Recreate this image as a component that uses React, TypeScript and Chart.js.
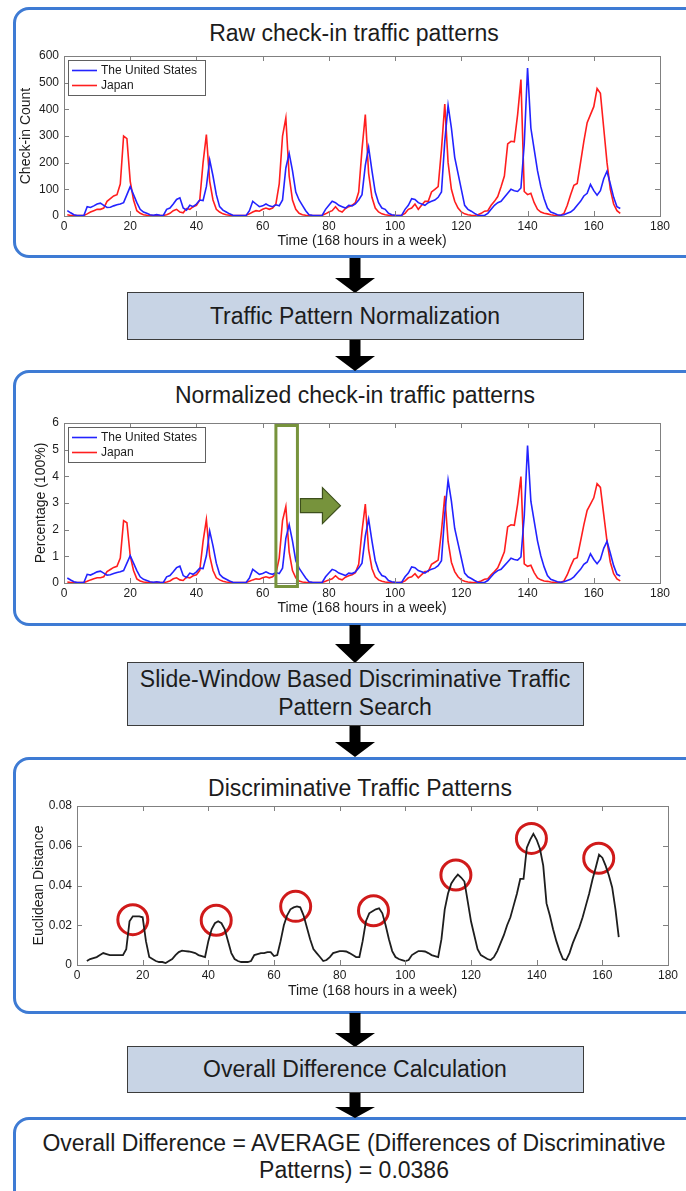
import React, { useEffect, useRef } from "react";
import { Chart, registerables } from "chart.js";

Chart.register(...registerables);
Chart.defaults.font.family = '"Liberation Sans", Arial, Helvetica, sans-serif';

// ---------------- DATA ----------------
const HOURS = Array.from({ length: 168 }, (_, i) => i + 1);
const X_TICK_STEP = 20;

const US_RAW = [
  20, 12, 5, 2, 2, 2, 35, 32, 38, 45,
  48, 40, 32, 33, 38, 42, 45, 50, 80, 110,
  80, 50, 25, 15, 10, 5, 3, 5, 3, 2,
  25, 30, 45, 62, 68, 30, 22, 40, 35, 45,
  60, 58, 110, 210, 150, 80, 35, 22, 15, 8,
  3, 2, 2, 2, 2, 20, 55, 45, 35, 38,
  45, 38, 35, 42, 38, 60, 180, 235, 170, 90,
  60, 40, 20, 5, 3, 2, 2, 3, 25, 40,
  55, 50, 40, 35, 30, 40, 38, 45, 60, 80,
  190, 258, 170, 90, 50, 30, 25, 10, 5, 3,
  2, 3, 25, 40, 65, 62, 50, 45, 40, 50,
  55, 60, 70, 90, 280, 415, 330, 220, 160, 100,
  40, 25, 18, 10, 3, 2, 2, 10, 25, 40,
  50, 55, 70, 85, 100, 95, 92, 105, 270, 555,
  330, 250, 170, 110, 65, 30, 15, 10, 5, 3,
  5, 10, 15, 25, 40, 55, 75, 85, 118, 95,
  78, 95, 140, 168, 120, 70, 35, 28,
];

const JAPAN_RAW = [
  5, 2, 2, 2, 2, 2, 8, 15, 20, 25,
  25, 30, 55, 65, 75, 80, 120, 300, 290, 130,
  60, 20, 10, 5, 3, 2, 2, 2, 2, 2,
  5, 10, 20, 25, 15, 12, 28, 25, 35, 40,
  60, 200, 305, 130, 60, 25, 15, 8, 5, 3,
  2, 2, 2, 2, 3, 8, 15, 20, 18, 25,
  30, 25, 30, 45, 120, 300, 368, 150, 60, 25,
  10, 5, 3, 2, 2, 2, 2, 3, 8, 15,
  20, 35, 20, 15, 28, 35, 40, 50, 90, 250,
  380, 160, 70, 30, 15, 8, 5, 3, 2, 2,
  2, 3, 10, 25, 30, 45, 25, 40, 55, 55,
  90, 100, 110, 250, 420, 200, 100, 55, 30, 15,
  8, 5, 3, 2, 5, 10, 18, 20, 40, 55,
  73, 110, 150, 270, 280, 278, 380, 512, 92, 80,
  85, 50, 25, 15, 10, 8, 5, 3, 2, 3,
  10, 40, 80, 115, 122, 200, 280, 350, 380, 410,
  478, 460, 330, 200, 100, 45, 20, 10,
];

// Euclidean distance of the sliding window, hours 3..165
const DIST_START_HOUR = 3;
const DISTANCE = [
  0.002, 0.003, 0.0035, 0.004, 0.005, 0.006, 0.0055, 0.005,
  0.005, 0.005, 0.005, 0.005, 0.008, 0.022, 0.0245, 0.0245, 0.0245, 0.024,
  0.012, 0.004, 0.003, 0.002, 0.0015, 0.0015, 0.001, 0.002, 0.003, 0.005,
  0.0065, 0.0072, 0.007, 0.0068, 0.0065, 0.006, 0.005, 0.0045, 0.004, 0.012,
  0.018, 0.021, 0.022, 0.021, 0.018, 0.012, 0.006, 0.003, 0.002, 0.0015,
  0.0015, 0.0015, 0.002, 0.005, 0.0055, 0.006, 0.006, 0.0065, 0.0065, 0.0045,
  0.005, 0.012, 0.02, 0.025, 0.028, 0.029, 0.0295, 0.029, 0.025, 0.019,
  0.013, 0.008, 0.006, 0.004, 0.002, 0.0025, 0.004, 0.006, 0.0065, 0.007,
  0.007, 0.0068, 0.006, 0.005, 0.004, 0.004, 0.012, 0.022, 0.026, 0.027,
  0.028, 0.0285, 0.026, 0.02, 0.013, 0.007, 0.004, 0.003, 0.0025, 0.002,
  0.0025, 0.005, 0.006, 0.007, 0.007, 0.0068, 0.006, 0.005, 0.0045, 0.004,
  0.013, 0.028, 0.036, 0.041, 0.0435, 0.0455, 0.044, 0.042, 0.032, 0.022,
  0.015, 0.008, 0.005, 0.004, 0.003, 0.0025, 0.004, 0.007, 0.011, 0.015,
  0.02, 0.024, 0.03, 0.036, 0.0433, 0.0433, 0.059, 0.063, 0.066, 0.063,
  0.0585, 0.05, 0.031, 0.025, 0.018, 0.012, 0.007, 0.003, 0.0025, 0.006,
  0.011, 0.015, 0.019, 0.024, 0.03, 0.036, 0.043, 0.049, 0.0555, 0.054,
  0.05, 0.045, 0.039, 0.028, 0.014,
];

// discriminative patterns (circled peaks)
const PEAK_HOURS = [17, 42.4, 66.6, 90.3, 115.4, 138.4, 158.9];
const PEAK_VALUES = [0.0228, 0.0225, 0.0295, 0.0273, 0.0453, 0.0637, 0.0537];

// slide window shown on the normalized chart
const WINDOW_START = 64;
const WINDOW_END = 70.5;
const WINDOW_ARROW_LEVEL = 2.9;

const SERIES_NAMES = ["The United States", "Japan"];

// ---------------- STYLE ----------------
const BLUE = "rgb(35,35,255)";
const RED = "rgb(255,30,30)";
const GREEN = "#77933c";
const PANEL_BLUE = "#3e7bd4";
const FONT = '"Liberation Sans", Arial, Helvetica, sans-serif';
const TEXT = "#1c1c1c";

const normalize = (arr: number[]) => {
  const total = arr.reduce((s, v) => s + v, 0);
  return arr.map((v) => (v / total) * 100);
};

const US_NORM = normalize(US_RAW);
const JAPAN_NORM = normalize(JAPAN_RAW);

// ---------------- PLUGINS ----------------
const matlabAxes = {
  id: "matlabAxes",
  afterDatasetsDraw(chart: any) {
    const { ctx, chartArea: a, scales } = chart;
    const L = 5;
    ctx.save();
    ctx.strokeStyle = "#808080";
    ctx.lineWidth = 1;
    ctx.beginPath();
    scales.x.ticks.forEach((t: any) => {
      const px = Math.round(scales.x.getPixelForValue(t.value)) + 0.5;
      ctx.moveTo(px, a.bottom);
      ctx.lineTo(px, a.bottom - L);
      ctx.moveTo(px, a.top);
      ctx.lineTo(px, a.top + L);
    });
    scales.y.ticks.forEach((t: any) => {
      const py = Math.round(scales.y.getPixelForValue(t.value)) + 0.5;
      ctx.moveTo(a.left, py);
      ctx.lineTo(a.left + L, py);
      ctx.moveTo(a.right, py);
      ctx.lineTo(a.right - L, py);
    });
    ctx.stroke();
    ctx.strokeRect(
      Math.round(a.left) + 0.5,
      Math.round(a.top) + 0.5,
      Math.round(a.right - a.left),
      Math.round(a.bottom - a.top)
    );
    ctx.restore();
  },
};

const boxLegend = {
  id: "boxLegend",
  afterDatasetsDraw(chart: any) {
    const { ctx, chartArea: a } = chart;
    const bx = Math.round(a.left) + 4;
    const by = Math.round(a.top) + 4;
    const bw = 137;
    const bh = 35;
    ctx.save();
    ctx.fillStyle = "#ffffff";
    ctx.fillRect(bx, by, bw, bh);
    ctx.strokeStyle = "#606060";
    ctx.lineWidth = 1;
    ctx.strokeRect(bx + 0.5, by + 0.5, bw, bh);
    chart.data.datasets.forEach((ds: any, i: number) => {
      const ry = by + 10.5 + i * 15;
      ctx.strokeStyle = ds.borderColor;
      ctx.lineWidth = 1.6;
      ctx.beginPath();
      ctx.moveTo(bx + 4, ry);
      ctx.lineTo(bx + 29, ry);
      ctx.stroke();
      ctx.fillStyle = TEXT;
      ctx.font = `12px ${FONT}`;
      ctx.textBaseline = "middle";
      ctx.textAlign = "left";
      ctx.fillText(ds.label, bx + 33, ry + 0.5);
    });
    ctx.restore();
  },
};

const slideWindow = {
  id: "slideWindow",
  afterDatasetsDraw(chart: any) {
    const { ctx, chartArea: a, scales } = chart;
    const x0 = scales.x.getPixelForValue(WINDOW_START);
    const x1 = scales.x.getPixelForValue(WINDOW_END);
    ctx.save();
    ctx.strokeStyle = GREEN;
    ctx.lineWidth = 3;
    ctx.strokeRect(x0, a.top + 2.5, x1 - x0, a.bottom - a.top + 1);
    const cy = scales.y.getPixelForValue(WINDOW_ARROW_LEVEL);
    const ax = x1 + 3;
    const bodyLen = 22;
    const headLen = 18;
    const bodyH = 7;
    const headH = 18;
    ctx.beginPath();
    ctx.moveTo(ax, cy - bodyH);
    ctx.lineTo(ax + bodyLen, cy - bodyH);
    ctx.lineTo(ax + bodyLen, cy - headH);
    ctx.lineTo(ax + bodyLen + headLen, cy);
    ctx.lineTo(ax + bodyLen, cy + headH);
    ctx.lineTo(ax + bodyLen, cy + bodyH);
    ctx.lineTo(ax, cy + bodyH);
    ctx.closePath();
    ctx.fillStyle = GREEN;
    ctx.fill();
    ctx.strokeStyle = "#3d4f1c";
    ctx.lineWidth = 1.2;
    ctx.stroke();
    ctx.restore();
  },
};

// ---------------- CONFIG HELPERS ----------------
function axes(opts: {
  yMax: number;
  yStep: number;
  yTitle: string;
  yWidth: number;
  xHeight: number;
}) {
  const tickFont = { size: 12, family: FONT };
  const titleFont = { size: 14, family: FONT };
  return {
    x: {
      type: "linear",
      min: 0,
      max: 180,
      ticks: {
        stepSize: X_TICK_STEP,
        padding: 3,
        font: tickFont,
        color: TEXT,
        maxRotation: 0,
        autoSkip: false,
      },
      grid: { display: false, drawTicks: false },
      border: { display: false },
      title: {
        display: true,
        text: "Time (168 hours in a week)",
        font: titleFont,
        color: TEXT,
        padding: 0,
      },
      afterFit: (s: any) => {
        s.height = opts.xHeight;
      },
    },
    y: {
      min: 0,
      max: opts.yMax,
      ticks: { stepSize: opts.yStep, padding: 5, font: tickFont, color: TEXT },
      grid: { display: false, drawTicks: false },
      border: { display: false },
      title: {
        display: true,
        text: opts.yTitle,
        font: titleFont,
        color: TEXT,
        padding: 0,
      },
      afterFit: (s: any) => {
        s.width = opts.yWidth;
      },
    },
  };
}

const lineDs = (label: string, xs: number[], ys: number[], color: string, width = 1.6) => ({
  type: "line",
  label,
  data: xs.map((x, i) => ({ x, y: ys[i] })),
  borderColor: color,
  backgroundColor: color,
  borderWidth: width,
  pointRadius: 0,
  tension: 0,
  fill: false,
});

const baseOptions = (padding: any) => ({
  animation: false,
  responsive: false,
  maintainAspectRatio: false,
  events: [],
  layout: { padding },
  plugins: { legend: { display: false }, tooltip: { enabled: false }, title: { display: false } },
});

function rawConfig() {
  return {
    type: "line",
    data: {
      datasets: [
        lineDs(SERIES_NAMES[0], HOURS, US_RAW, BLUE),
        lineDs(SERIES_NAMES[1], HOURS, JAPAN_RAW, RED),
      ],
    },
    options: {
      ...baseOptions({ left: 18, right: 26, top: 16, bottom: 5 }),
      scales: axes({ yMax: 600, yStep: 100, yTitle: "Check-in Count", yWidth: 46, xHeight: 34 }),
    },
    plugins: [matlabAxes, boxLegend],
  };
}

function normConfig() {
  return {
    type: "line",
    data: {
      datasets: [
        lineDs(SERIES_NAMES[0], HOURS, US_NORM, BLUE),
        lineDs(SERIES_NAMES[1], HOURS, JAPAN_NORM, RED),
      ],
    },
    options: {
      ...baseOptions({ left: 33, right: 26, top: 16, bottom: 5 }),
      scales: axes({ yMax: 6, yStep: 1, yTitle: "Percentage (100%)", yWidth: 31, xHeight: 34 }),
    },
    plugins: [matlabAxes, boxLegend, slideWindow],
  };
}

function distConfig() {
  const distHours = DISTANCE.map((_, i) => DIST_START_HOUR + i);
  return {
    type: "line",
    data: {
      datasets: [
        lineDs("Euclidean Distance", distHours, DISTANCE, "#1e1e1e", 1.8),
        {
          type: "scatter",
          label: "Discriminative patterns",
          data: PEAK_HOURS.map((x, i) => ({ x, y: PEAK_VALUES[i] })),
          showLine: false,
          pointRadius: 15,
          pointBorderWidth: 3,
          pointBorderColor: "#d01a1a",
          pointBackgroundColor: "rgba(0,0,0,0)",
          clip: false,
        },
      ],
    },
    options: {
      ...baseOptions({ left: 31, right: 18, top: 16, bottom: 5 }),
      scales: axes({ yMax: 0.08, yStep: 0.02, yTitle: "Euclidean Distance", yWidth: 46, xHeight: 35 }),
    },
    plugins: [matlabAxes],
  };
}

// ---------------- COMPONENTS ----------------
function ChartCanvas(props: { left: number; top: number; width: number; height: number; make: () => any }) {
  const ref = useRef<HTMLCanvasElement | null>(null);
  useEffect(() => {
    const chart = new Chart(ref.current as HTMLCanvasElement, props.make());
    return () => chart.destroy();
  }, []);
  return (
    <canvas
      ref={ref}
      width={props.width}
      height={props.height}
      style={{ position: "absolute", left: props.left, top: props.top, width: props.width, height: props.height }}
    />
  );
}

function Panel(props: { top: number; height: number }) {
  return (
    <div
      style={{
        position: "absolute",
        left: 13,
        top: props.top,
        width: 720,
        height: props.height,
        border: `3px solid ${PANEL_BLUE}`,
        borderRadius: 16,
        boxSizing: "border-box",
        background: "#ffffff",
      }}
    />
  );
}

function Label(props: { cx: number; cy: number; lines: string[]; size: number; lh: number }) {
  const h = props.lh * props.lines.length;
  return (
    <div
      style={{
        position: "absolute",
        left: props.cx - 340,
        width: 680,
        top: props.cy - props.lh / 2,
        height: h,
        textAlign: "center",
        fontFamily: FONT,
        fontSize: props.size,
        lineHeight: `${props.lh}px`,
        color: TEXT,
        whiteSpace: "nowrap",
      }}
    >
      {props.lines.map((l, i) => (
        <div key={i}>{l}</div>
      ))}
    </div>
  );
}

function StepBox(props: { top: number; height: number }) {
  return (
    <div
      style={{
        position: "absolute",
        left: 127,
        top: props.top,
        width: 457,
        height: props.height,
        background: "#c8d4e5",
        border: "1.5px solid #3c3c3c",
        boxSizing: "border-box",
      }}
    />
  );
}

const ARROWS: [number, number, number][] = [
  [258, 278, 293],
  [340, 356, 371],
  [625, 644, 663],
  [726, 742, 757],
  [1013, 1033, 1047],
  [1092, 1107, 1118],
];

function Arrows() {
  const cx = 355;
  return (
    <svg
      width={686}
      height={1191}
      style={{ position: "absolute", left: 0, top: 0, pointerEvents: "none" }}
    >
      {ARROWS.map(([y0, y1, y2], i) => (
        <polygon
          key={i}
          fill="#000"
          points={`${cx - 5.5},${y0} ${cx + 5.5},${y0} ${cx + 5.5},${y1} ${cx + 20},${y1} ${cx},${y2} ${cx - 20},${y1} ${cx - 5.5},${y1}`}
        />
      ))}
    </svg>
  );
}

export default function App() {
  useEffect(() => {
    document.body.style.margin = "0";
  }, []);
  return (
    <div
      style={{
        position: "absolute",
        left: 0,
        top: 0,
        width: 686,
        height: 1191,
        overflow: "hidden",
        background: "#ffffff",
      }}
    >
      <Panel top={7} height={251} />
      <Panel top={370} height={256} />
      <Panel top={757} height={257} />
      <Panel top={1117} height={120} />

      <Arrows />

      <StepBox top={292} height={48} />
      <StepBox top={662} height={64} />
      <StepBox top={1046} height={47} />

      <Label cx={354} cy={33} lines={["Raw check-in traffic patterns"]} size={23} lh={26} />
      <Label cx={355} cy={395} lines={["Normalized check-in traffic patterns"]} size={23} lh={26} />
      <Label cx={360} cy={788} lines={["Discriminative Traffic Patterns"]} size={23} lh={26} />

      <Label cx={355} cy={316} lines={["Traffic Pattern Normalization"]} size={23} lh={28} />
      <Label
        cx={355}
        cy={679}
        lines={["Slide-Window Based Discriminative Traffic", "Pattern Search"]}
        size={23}
        lh={28}
      />
      <Label cx={355} cy={1069} lines={["Overall Difference Calculation"]} size={23} lh={28} />
      <Label
        cx={354}
        cy={1143}
        lines={["Overall Difference = AVERAGE (Differences of Discriminative", "Patterns) = 0.0386"]}
        size={23}
        lh={27}
      />

      <ChartCanvas left={0} top={40} width={686} height={215} make={rawConfig} />
      <ChartCanvas left={0} top={407} width={686} height={215} make={normConfig} />
      <ChartCanvas left={0} top={788} width={686} height={217} make={distConfig} />
    </div>
  );
}
